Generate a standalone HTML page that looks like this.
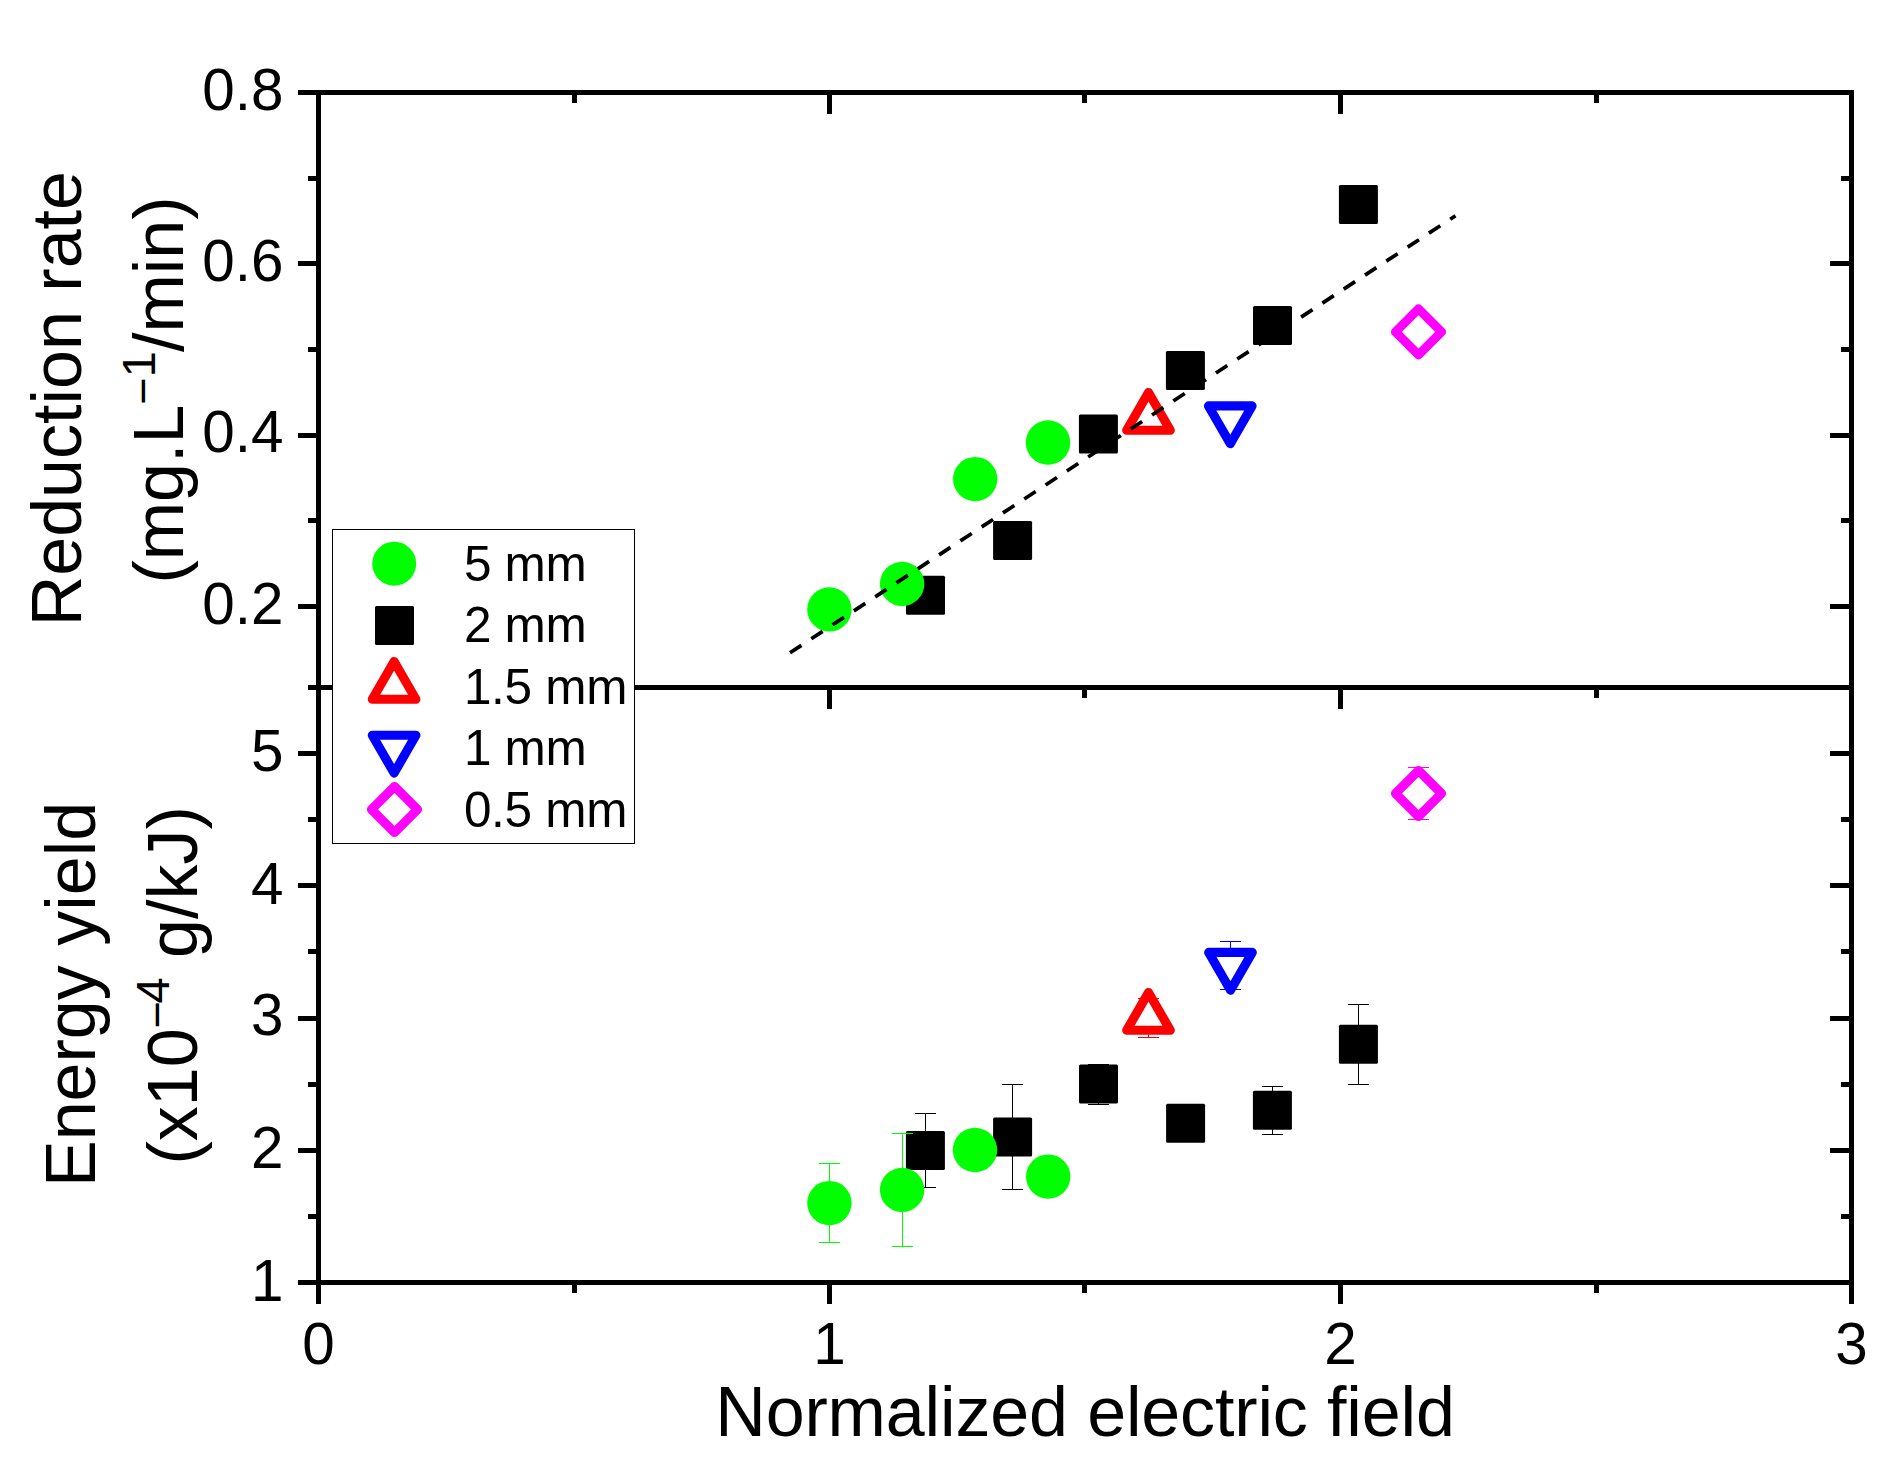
<!DOCTYPE html>
<html lang="en"><head><meta charset="utf-8"><title>Reduction rate and energy yield vs normalized electric field</title>
<style>html,body{margin:0;padding:0;background:#fff;}body{width:1903px;height:1467px;overflow:hidden;}svg{display:block;}text{font-family:"Liberation Sans",sans-serif;fill:#000;}</style>
</head><body>
<svg width="1903" height="1467" viewBox="0 0 1903 1467">
<rect x="0" y="0" width="1903" height="1467" fill="#fff"/>
<g shape-rendering="crispEdges">
<rect x="298" y="90" width="1556" height="5" fill="#000"/>
<rect x="308" y="685" width="1546" height="5" fill="#000"/>
<rect x="298" y="1280" width="1556" height="5" fill="#000"/>
<rect x="316" y="90" width="5" height="1214" fill="#000"/>
<rect x="1849" y="90" width="5" height="1214" fill="#000"/>
<rect x="298" y="261" width="18" height="5" fill="#000"/>
<rect x="298" y="433" width="18" height="5" fill="#000"/>
<rect x="298" y="604" width="18" height="5" fill="#000"/>
<rect x="308" y="176" width="8" height="5" fill="#000"/>
<rect x="308" y="347" width="8" height="5" fill="#000"/>
<rect x="308" y="518" width="8" height="5" fill="#000"/>
<rect x="298" y="751" width="18" height="5" fill="#000"/>
<rect x="298" y="883" width="18" height="5" fill="#000"/>
<rect x="298" y="1016" width="18" height="5" fill="#000"/>
<rect x="298" y="1148" width="18" height="5" fill="#000"/>
<rect x="308" y="817" width="8" height="5" fill="#000"/>
<rect x="308" y="949" width="8" height="5" fill="#000"/>
<rect x="308" y="1082" width="8" height="5" fill="#000"/>
<rect x="308" y="1214" width="8" height="5" fill="#000"/>
<rect x="1830" y="261" width="19" height="5" fill="#000"/>
<rect x="1830" y="433" width="19" height="5" fill="#000"/>
<rect x="1830" y="604" width="19" height="5" fill="#000"/>
<rect x="1841" y="176" width="8" height="5" fill="#000"/>
<rect x="1841" y="347" width="8" height="5" fill="#000"/>
<rect x="1841" y="518" width="8" height="5" fill="#000"/>
<rect x="1830" y="751" width="19" height="5" fill="#000"/>
<rect x="1830" y="883" width="19" height="5" fill="#000"/>
<rect x="1830" y="1016" width="19" height="5" fill="#000"/>
<rect x="1830" y="1148" width="19" height="5" fill="#000"/>
<rect x="1841" y="817" width="8" height="5" fill="#000"/>
<rect x="1841" y="949" width="8" height="5" fill="#000"/>
<rect x="1841" y="1082" width="8" height="5" fill="#000"/>
<rect x="1841" y="1214" width="8" height="5" fill="#000"/>
<rect x="827" y="95" width="5" height="19" fill="#000"/>
<rect x="1338" y="95" width="5" height="19" fill="#000"/>
<rect x="572" y="95" width="5" height="8" fill="#000"/>
<rect x="1082" y="95" width="5" height="8" fill="#000"/>
<rect x="1594" y="95" width="5" height="8" fill="#000"/>
<rect x="827" y="690" width="5" height="19" fill="#000"/>
<rect x="1338" y="690" width="5" height="19" fill="#000"/>
<rect x="572" y="690" width="5" height="8" fill="#000"/>
<rect x="1082" y="690" width="5" height="8" fill="#000"/>
<rect x="1594" y="690" width="5" height="8" fill="#000"/>
<rect x="827" y="1285" width="5" height="19" fill="#000"/>
<rect x="1338" y="1285" width="5" height="19" fill="#000"/>
<rect x="572" y="1285" width="5" height="8" fill="#000"/>
<rect x="1082" y="1285" width="5" height="8" fill="#000"/>
<rect x="1594" y="1285" width="5" height="8" fill="#000"/>
</g>
<g font-size="58.4" text-anchor="end">
<text x="283.5" y="110.4">0.8</text>
<text x="283.5" y="281.4">0.6</text>
<text x="283.5" y="452.4">0.4</text>
<text x="283.5" y="623.9">0.2</text>
<text x="283.5" y="771.4">5</text>
<text x="283.5" y="903.8">4</text>
<text x="283.5" y="1035.2">3</text>
<text x="283.5" y="1167.9">2</text>
<text x="283.5" y="1301">1</text>
</g>
<g font-size="58.4" text-anchor="middle">
<text x="318.5" y="1363.5">0</text>
<text x="829.5" y="1363.5">1</text>
<text x="1340.5" y="1363.5">2</text>
<text x="1851.5" y="1363.5">3</text>
</g>
<text x="1085" y="1436" font-size="70" text-anchor="middle" letter-spacing="-0.14">Normalized electric field</text>
<text transform="translate(81.2,626.3) rotate(-90)" font-size="70">Reduction rate</text>
<text transform="translate(182.8,583.6) rotate(-90)" font-size="70">(mg.L<tspan font-size="47" dy="-24">−</tspan><tspan font-size="47" dy="-3.6">1</tspan><tspan dy="27.6" dx="-1">/min)</tspan></text>
<text transform="translate(95,1187) rotate(-90)" font-size="70">Energy yield</text>
<text transform="translate(197,1164.6) rotate(-90)" font-size="70">(x10<tspan font-size="47" dy="-24.5">−</tspan><tspan font-size="47" dy="-3.8" dx="-2.5">4</tspan><tspan dy="28.3"> g/kJ)</tspan></text>
<rect x="906.0" y="575.8" width="39" height="39" rx="1.5" fill="#000"/>
<rect x="993.1" y="520.9" width="39" height="39" rx="1.5" fill="#000"/>
<rect x="1078.9" y="414.4" width="39" height="39" rx="1.5" fill="#000"/>
<rect x="1165.9" y="350.9" width="39" height="39" rx="1.5" fill="#000"/>
<rect x="1253.0" y="305.9" width="39" height="39" rx="1.5" fill="#000"/>
<rect x="1338.9" y="184.9" width="39" height="39" rx="1.5" fill="#000"/>
<circle cx="829.4" cy="609.4" r="22.2" fill="#0f0"/>
<circle cx="902.1" cy="583.9" r="22.2" fill="#0f0"/>
<circle cx="975.2" cy="479.1" r="22.2" fill="#0f0"/>
<circle cx="1048.0" cy="442.5" r="22.2" fill="#0f0"/>
<polygon points="1148.5,392.5 1170.3,430.3 1126.7,430.3" fill="#fff" stroke="#f00" stroke-width="9.1" stroke-linejoin="round"/>
<polygon points="1230.3,443.7 1252.1,405.9 1208.5,405.9" fill="#fff" stroke="#00f" stroke-width="9.1" stroke-linejoin="round"/>
<polygon points="1418.5,308.9 1441.5,331.9 1418.5,354.9 1395.5,331.9" fill="#fff" stroke="#f0f" stroke-width="9.1" stroke-linejoin="round"/>
<line x1="790" y1="652.8" x2="1455.5" y2="215.7" stroke="#000" stroke-width="3.7" stroke-dasharray="13.6 11.88"/>
<path d="M925.5 1113.5V1187.5M915.0 1113.5H936.0M915.0 1187.5H936.0" stroke="#000" stroke-width="1" fill="none" shape-rendering="crispEdges"/>
<rect x="905.9" y="1131.0" width="39" height="39" rx="1.5" fill="#000"/>
<path d="M1012.5 1084.5V1189.5M1002.0 1084.5H1023.0M1002.0 1189.5H1023.0" stroke="#000" stroke-width="1" fill="none" shape-rendering="crispEdges"/>
<rect x="993.1" y="1117.4" width="39" height="39" rx="1.5" fill="#000"/>
<path d="M1098.5 1064.5V1104.5M1088.0 1064.5H1109.0M1088.0 1104.5H1109.0" stroke="#000" stroke-width="1" fill="none" shape-rendering="crispEdges"/>
<rect x="1079.0" y="1064.6" width="39" height="39" rx="1.5" fill="#000"/>
<rect x="1166.1" y="1103.8" width="39" height="39" rx="1.5" fill="#000"/>
<path d="M1272.5 1086.5V1134.5M1262.0 1086.5H1283.0M1262.0 1134.5H1283.0" stroke="#000" stroke-width="1" fill="none" shape-rendering="crispEdges"/>
<rect x="1252.9" y="1090.8" width="39" height="39" rx="1.5" fill="#000"/>
<path d="M1358.5 1004.5V1084.5M1348.0 1004.5H1369.0M1348.0 1084.5H1369.0" stroke="#000" stroke-width="1" fill="none" shape-rendering="crispEdges"/>
<rect x="1338.9" y="1024.8" width="39" height="39" rx="1.5" fill="#000"/>
<path d="M829.5 1163.5V1242.5M819.0 1163.5H840.0M819.0 1242.5H840.0" stroke="#0f0" stroke-width="1" fill="none" shape-rendering="crispEdges"/>
<circle cx="829.4" cy="1203.1" r="22.2" fill="#0f0"/>
<path d="M902.5 1133.5V1246.5M892.0 1133.5H913.0M892.0 1246.5H913.0" stroke="#0f0" stroke-width="1" fill="none" shape-rendering="crispEdges"/>
<circle cx="902.1" cy="1189.9" r="22.2" fill="#0f0"/>
<circle cx="975.0" cy="1150.0" r="22.2" fill="#0f0"/>
<circle cx="1048.2" cy="1176.6" r="22.2" fill="#0f0"/>
<path d="M1148.5 998.5V1037.5M1138.0 998.5H1159.0M1138.0 1037.5H1159.0" stroke="#f00" stroke-width="1" fill="none" shape-rendering="crispEdges"/>
<polygon points="1148.5,992.5 1170.3,1030.3 1126.7,1030.3" fill="#fff" stroke="#f00" stroke-width="9.1" stroke-linejoin="round"/>
<path d="M1230.5 941.5V989.5M1220.0 941.5H1241.0M1220.0 989.5H1241.0" stroke="#00f" stroke-width="1" fill="none" shape-rendering="crispEdges"/>
<polygon points="1230.5,990.2 1252.3,952.4 1208.7,952.4" fill="#fff" stroke="#00f" stroke-width="9.1" stroke-linejoin="round"/>
<path d="M1418.5 767.5V819.5M1408.0 767.5H1429.0M1408.0 819.5H1429.0" stroke="#f0f" stroke-width="1" fill="none" shape-rendering="crispEdges"/>
<polygon points="1418.5,770.5 1441.5,793.5 1418.5,816.5 1395.5,793.5" fill="#fff" stroke="#f0f" stroke-width="9.1" stroke-linejoin="round"/>
<rect x="332.5" y="529.5" width="302" height="314" fill="#fff" stroke="#000" stroke-width="1" shape-rendering="crispEdges"/>
<circle cx="394.2" cy="563.7" r="22" fill="#0f0"/>
<rect x="375.0" y="605.9" width="39" height="39" rx="1.5" fill="#000"/>
<polygon points="394.1,661.5 415.9,699.3 372.3,699.3" fill="#fff" stroke="#f00" stroke-width="9.1" stroke-linejoin="round"/>
<polygon points="394.1,773.1 415.9,735.3 372.3,735.3" fill="#fff" stroke="#00f" stroke-width="9.1" stroke-linejoin="round"/>
<polygon points="394.5,786.5 417.5,809.5 394.5,832.5 371.5,809.5" fill="#fff" stroke="#f0f" stroke-width="9.1" stroke-linejoin="round"/>
<g font-size="49.5" letter-spacing="-0.3">
<text x="463.9" y="580.9">5 mm</text>
<text x="463.9" y="642.4">2 mm</text>
<text x="463.9" y="703.8">1.5 mm</text>
<text x="463.9" y="765.2">1 mm</text>
<text x="463.9" y="826.7">0.5 mm</text>
</g>
</svg>
</body></html>
